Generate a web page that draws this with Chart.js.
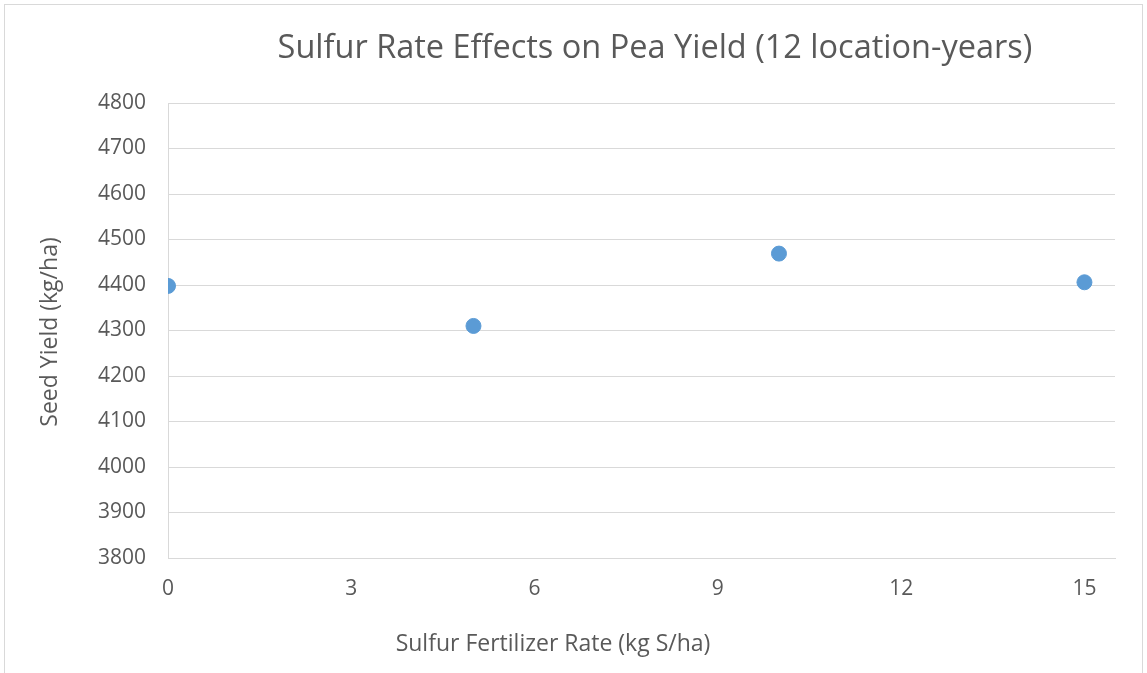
<!DOCTYPE html>
<html>
<head>
<meta charset="utf-8">
<script src="https://cdn.jsdelivr.net/npm/chart.js@4.4.1/dist/chart.umd.min.js"></script>
<style>
  html, body { margin: 0; padding: 0; background: #fff; overflow: hidden; }
  #wrap { position: relative; width: 1147px; height: 673px; overflow: hidden; }
  #frame { position: absolute; left: 4px; top: 4px; width: 1137px; height: 700px; border: 1px solid #d9d9d9; }
  #myChart { position: absolute; left: 0; top: 0; }
</style>
</head>
<body>
<div id="wrap">
  <div id="frame"></div>
  <canvas id="myChart" width="1147" height="673"></canvas>
</div>
<script>
// data
const rates = [0, 5, 10, 15];
const yields = [4398, 4310, 4469, 4406];
const xTicks = [0, 3, 6, 9, 12, 15];

const chartTitle = 'Sulfur Rate Effects on Pea Yield (12 location-years)';
const xTitle = 'Sulfur Fertilizer Rate (kg S/ha)';
const yTitle = 'Seed Yield (kg/ha)';

const textColor = '#595959';
const gridColor = '#d9d9d9';
const pointColor = '#5b9bd5';
const font = "'Open Sans', sans-serif";

// titles are placed by hand, like the excel chart
const titlesPlugin = {
  id: 'titles',
  afterDraw(chart) {
    const c = chart.ctx;
    c.save();
    c.fillStyle = textColor;
    c.textAlign = 'center';
    c.textBaseline = 'middle';
    c.font = '32.5px ' + font;
    c.fillText(chartTitle, 655, 49);
    c.font = '23px ' + font;
    c.fillText(xTitle, 553, 644);
    c.translate(50, 332);
    c.rotate(-Math.PI / 2);
    c.fillText(yTitle, 0, 0);
    c.restore();
  }
};

let points = [];
for (let i = 0; i < rates.length; i++) {
  points.push({ x: rates[i], y: yields[i] });
}

const ctx = document.getElementById('myChart');
const chart = new Chart(ctx, {
  type: 'scatter',
  data: {
    datasets: [{
      data: points,
      backgroundColor: pointColor,
      borderColor: pointColor,
      pointRadius: 7.5,
      pointHoverRadius: 7.5
    }]
  },
  options: {
    responsive: false,
    animation: false,
    layout: { padding: { top: 103, right: 32, left: 0, bottom: 0 } },
    plugins: {
      legend: { display: false },
      tooltip: { enabled: false }
    },
    scales: {
      x: {
        type: 'linear',
        min: 0,
        max: 15.5,
        afterBuildTicks: function(scale) {
          scale.ticks = xTicks.map(v => ({ value: v }));
        },
        afterFit: function(scale) { scale.height = 115; },
        grid: { display: false, drawTicks: false },
        border: { display: true, color: gridColor, width: 1 },
        ticks: {
          padding: 18,
          color: textColor,
          font: { family: font, size: 21 },
          maxRotation: 0,
          callback: v => String(v)
        }
      },
      y: {
        min: 3800,
        max: 4800,
        afterFit: function(scale) { scale.width = 168; },
        grid: { color: gridColor, lineWidth: 1, drawTicks: false },
        border: { display: true, color: gridColor, width: 1 },
        ticks: {
          stepSize: 100,
          padding: 22,
          color: textColor,
          font: { family: font, size: 21 },
          callback: v => String(v)
        }
      }
    }
  },
  plugins: [titlesPlugin]
});
</script>
</body>
</html>
